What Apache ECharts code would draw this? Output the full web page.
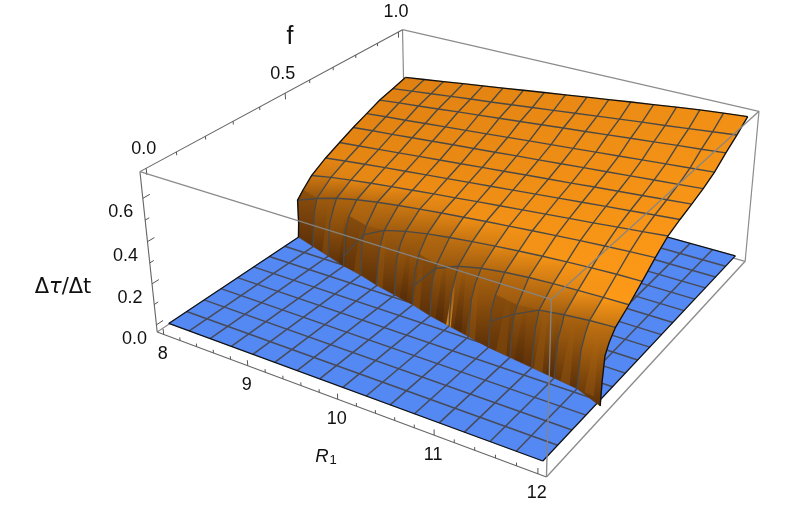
<!DOCTYPE html>
<html><head><meta charset="utf-8">
<style>html,body{margin:0;padding:0;background:#fff}#c{width:797px;height:508px}</style>
<script src="https://cdn.jsdelivr.net/npm/echarts@6/dist/echarts.min.js"></script>
</head><body><div id="c"></div>
<script>
// ---------- data ----------
const rValues = [8,8.25,8.5,8.75,9,9.25,9.5,9.75,10,10.25,10.5,10.75,11,11.25,11.5,11.75,12];
const fValues = [0,.0625,.125,.1875,.25,.3125,.375,.4375,.5,.5625,.625,.6875,.75,.8125,.875,.9375,1];
// f at which the orange sheet leaves the blue plane, for each R
const edgeF = [.495,.475,.455,.435,.42,.40,.385,.37,.35,.335,.32,.305,.295,.285,.275,.265,.255];
const edgeZ = [0,0,0,0,0,0,0,0,0,0,0,0,0,0,0,0,-.03];
// how far past the edge (in f) the brown of the wall reaches
const wallFade = [.09,.1,.11,.12,.13,.14,.14,.15,.15,.15,.14,.14,.13,.12,.11,.1,.08];
const _ = null;
// surface height, one row per f (row index in fValues), one value per R
const zF0312 = [_,_,_,_,_,_,_,_,_,_,_,.12,.19,.245,.26,.27,.276];
const zF0375 = [_,_,_,_,_,_,_,.09,.21,.255,.28,.295,.305,.311,.315,.318,.32];
const zF0437 = [_,_,_,.05,.19,.245,.272,.292,.307,.32,.331,.341,.35,.357,.363,.368,.37];
const zF0500 = [.19,.23,.262,.285,.303,.318,.331,.343,.354,.365,.375,.385,.394,.403,.411,.418,.424];
const zF0562 = [.27,.29,.306,.32,.333,.345,.357,.368,.38,.391,.402,.413,.424,.435,.447,.458,.47];
const zF0625 = [.315,.328,.34,.352,.363,.374,.385,.396,.407,.418,.429,.44,.451,.462,.473,.484,.495];
const zF0687 = [.35,.36,.371,.381,.392,.402,.412,.423,.433,.444,.454,.464,.475,.485,.495,.506,.516];
const zF0750 = [.385,.395,.404,.414,.424,.434,.443,.453,.463,.472,.482,.492,.501,.511,.521,.53,.54];
const zF0812 = [.415,.425,.434,.444,.454,.463,.473,.483,.493,.502,.512,.522,.531,.541,.551,.56,.57];
const zF0875 = [.445,.456,.466,.477,.488,.498,.509,.519,.53,.541,.551,.562,.573,.583,.594,.604,.615];
const zF0937 = [.465,.477,.489,.501,.513,.524,.536,.548,.56,.572,.584,.596,.608,.619,.631,.643,.655];
const zF1000 = [.485,.499,.513,.527,.541,.555,.569,.583,.597,.611,.625,.639,.652,.666,.679,.69,.70];
const blank = rValues.map(()=>_);
const surface = [blank,blank,blank,blank,blank,zF0312,zF0375,zF0437,zF0500,zF0562,zF0625,zF0687,zF0750,zF0812,zF0875,zF0937,zF1000];
// heights on the steep wall, just past the edge
const riseDf = [.004,.012,.03];
const riseA = [.07,.07,.07,.07,.07,.07,.07,.06,.07,.07,.07,.07,.07,.07,.07,.07,.08];
const riseB = [.17,.17,.16,.17,.17,.16,.17,.16,.17,.16,.17,.17,.16,.17,.17,.17,.19];
const riseC = [.225,.225,.22,.23,.225,.22,.23,.225,.225,.22,.23,.225,.22,.23,.225,.23,.235];
// wall streaks: R, half-width in R, top height, strength (+ light, - dark)
const streakR = [10.24,10.12,10.36,10.52,9.62,9.8,8.45,8.72,8.95,9.28,10.9,11.1,11.32,11.46,11.62,11.88];
const streakW = [.03,.05,.05,.06,.05,.05,.05,.05,.05,.05,.06,.05,.05,.05,.05,.05];
const streakZ = [.2,.27,.27,.25,.25,.25,.25,.25,.25,.25,.25,.25,.25,.25,.25,.25];
const streakS = [.8,-.35,-.35,.14,-.28,.14,.16,-.25,.14,.14,.14,-.25,.16,-.25,.16,.14];

const rTicks = [8,8.2,8.4,8.6,8.8,9,9.2,9.4,9.6,9.8,10,10.2,10.4,10.6,10.8,11,11.2,11.4,11.6,11.8,12];
const rLabels = [8,9,10,11,12];
const fTicks = [0,.1,.2,.3,.4,.5,.6,.7,.8,.9,1];
const fLabels = [0,.5,1];
const zTicks = [0,.1,.2,.3,.4,.5,.6];
const zLabels = [0,.2,.4,.6];

// ---------- view set-up ----------
const rRange = [7.92,12.08], fRange = [-.02,1.02], zRange = [-.035,.72];
const boxCorners = [ // u,v,w -> picture
 [0,0,0,157,332],[1,0,0,546,477],[1,1,0,745,262],[0,1,0,406,166],
 [0,0,1,140,172],[1,0,1,552,299],[1,1,1,759,111],[0,1,1,402,30]];
function solveCamera(){
  const A=[],b=[];
  boxCorners.forEach(([u,v,w,x,y])=>{
    A.push([u,v,w,1,0,0,0,0,-x*u,-x*v,-x*w]);b.push(x);
    A.push([0,0,0,0,u,v,w,1,-y*u,-y*v,-y*w]);b.push(y);
  });
  const n=11,M=[];
  for(let r=0;r<n;r++){M.push([]);for(let c=0;c<n;c++){let s=0;A.forEach(a=>s+=a[r]*a[c]);M[r].push(s);}
    let s=0;A.forEach((a,k)=>s+=a[r]*b[k]);M[r].push(s);}
  for(let c=0;c<n;c++){let p=c;for(let r=c+1;r<n;r++)if(Math.abs(M[r][c])>Math.abs(M[p][c]))p=r;
    [M[c],M[p]]=[M[p],M[c]];
    for(let r=0;r<n;r++)if(r!==c){const k=M[r][c]/M[c][c];for(let q=c;q<=n;q++)M[r][q]-=k*M[c][q];}}
  return M.map((row,i)=>row[n]/row[i]);
}
const cam = solveCamera();
function pBox(u,v,w){const d=cam[8]*u+cam[9]*v+cam[10]*w+1;
  return [(cam[0]*u+cam[1]*v+cam[2]*w+cam[3])/d,(cam[4]*u+cam[5]*v+cam[6]*w+cam[7])/d];}
const U=r=>(r-rRange[0])/(rRange[1]-rRange[0]), V=f=>(f-fRange[0])/(fRange[1]-fRange[0]), W=z=>(z-zRange[0])/(zRange[1]-zRange[0]);
const P=(r,f,z)=>pBox(U(r),V(f),W(z));

// ---------- surface structure ----------
const N=rValues.length-1;
function column(i){ // ascending f: edge point, wall points, then rows that have a value
  let pts=[];
  for(let j=0;j<=N;j++) if(surface[j][i]!==null) pts.push({f:fValues[j],z:surface[j][i],j});
  [riseA,riseB,riseC].forEach((arr,k)=>pts.push({f:edgeF[i]+riseDf[k],z:arr[i],j:-1}));
  pts.sort((a,b)=>a.f-b.f);
  const out=[{f:edgeF[i],z:edgeZ[i],j:-1}];
  pts.forEach(p=>{
    const later=pts.some(q=>q.f>p.f&&q.z<p.z);
    if(p.j>=0||!later) out.push(p);
  });
  return out.filter((p,k)=>k===0||p.j>=0||p.z>out[k-1].z);
}
const cols=rValues.map((_,i)=>column(i));
const mix=(a,b,t)=>a.map((v,k)=>v+(b[k]-v)*t);
const rgb=c=>`rgb(${c.map(v=>Math.round(v)).join(',')})`;
const clamp=(x)=>Math.max(0,Math.min(1,x));
function tone(i,k){
  const pt=cols[i][k];
  const base=mix([222,128,18],[255,155,24],clamp(.62*i/N+.5*(1-pt.f)));
  const t=clamp(1-(pt.f-edgeF[i])/wallFade[i]);
  return mix(base,[128,72,12],Math.pow(t,.85));
}
const WALL_FOOT=[92,48,8];
const orangeCells=[];
const firstRow=c=>c.find(p=>p.j>=0).j;
for(let i=0;i<N;i++){
  const a=cols[i],b=cols[i+1];
  const low=Math.max(firstRow(a),firstRow(b));
  for(let j=N;j>low;j--){
    const ak=a.findIndex(p=>p.j===j),bk=b.findIndex(p=>p.j===j);
    const am=a.findIndex(p=>p.j===j-1),bm=b.findIndex(p=>p.j===j-1);
    orangeCells.push({poly:[P(rValues[i],a[ak].f,a[ak].z),P(rValues[i+1],b[bk].f,b[bk].z),
        ...b.slice(bm,bk).reverse().map(p=>P(rValues[i+1],p.f,p.z)),
        ...a.slice(am,ak).map(p=>P(rValues[i],p.f,p.z))],
      stops:[[0,mix(tone(i,ak),tone(i+1,bk),.5)],[1,mix(tone(i,am),tone(i+1,bm),.5)]]});
  }
  const aLow=a.filter(p=>p.j<=low),bLow=b.filter(p=>p.j<=low);
  orangeCells.push({poly:[...aLow.map(p=>P(rValues[i],p.f,p.z)),...bLow.slice().reverse().map(p=>P(rValues[i+1],p.f,p.z))],
    stops:[[0,mix(tone(i,a.findIndex(p=>p.j===low)),tone(i+1,b.findIndex(p=>p.j===low)),.5)],[1,WALL_FOOT]]});
}
function edgeAt(r){const k=Math.min(N-1,Math.floor((r-8)/.25)),t=(r-rValues[k])/.25;return edgeF[k]+(edgeF[k+1]-edgeF[k])*t;}
const streaks=streakR.map((r,k)=>{const w=streakW[k],zt=streakZ[k],s=streakS[k],d=riseDf[2];
  return {poly:[P(r-w,edgeAt(r-w),0),P(r+w,edgeAt(r+w),0),P(r+w/3,edgeAt(r)+d,zt),P(r-w/3,edgeAt(r)+d,zt)],s};});
const blueCells=[];
for(let i=0;i<N;i++)for(let j=0;j<N;j++)blueCells.push([P(rValues[i],fValues[j],0),P(rValues[i+1],fValues[j],0),P(rValues[i+1],fValues[j+1],0),P(rValues[i],fValues[j+1],0)]);

const blueLines=[],blackLines=[],orangeLines=[],orangeEdges=[];
for(let k=0;k<=N;k++){
  const a=[P(rValues[k],0,0),P(rValues[k],1,0)],b=[P(8,fValues[k],0),P(12,fValues[k],0)];
  if(k===0||k===N){blackLines.push(a,b);}else{blueLines.push(a,b);}
}
rValues.forEach((r,i)=>{
  const line=cols[i].map(p=>P(r,p.f,p.z));
  if(i===0||i===N)orangeEdges.push(line);else orangeLines.push(line);
});
for(let j=5;j<=N;j++){
  const line=[];rValues.forEach((r,i)=>{if(surface[j][i]!==null)line.push(P(r,fValues[j],surface[j][i]));});
  if(j===N)orangeEdges.push(line);else orangeLines.push(line);
}
const B=(u,v,w)=>pBox(u,v,w);
const backEdges=[[B(0,1,1),B(1,1,1)],[B(0,1,1),B(0,1,0)],[B(1,1,1),B(1,1,0)],[B(1,1,0),B(0,1,0)],[B(0,0,0),B(0,1,0)]];
const axisEdges=[[B(0,0,1),B(0,1,1)],[B(0,0,0),B(0,0,1)],[B(0,0,0),B(1,0,0)]];
const frontEdges=[[B(0,0,1),B(1,0,1)],[B(1,0,1),B(1,1,1)],[B(1,0,1),B(1,0,0)],[B(1,0,0),B(1,1,0)]];
const ticks=[];
rTicks.forEach(t=>{const maj=rLabels.includes(t),u=U(t);ticks.push([B(u,0,0),B(u,0,maj?.035:.02)]);});
fTicks.forEach(t=>{const maj=fLabels.includes(t),v=V(t);ticks.push([B(0,v,1),B(0,v,maj?.96:.98)]);});
zTicks.forEach(t=>{const maj=zLabels.includes(t),w=W(t);ticks.push([B(0,0,w),B(0,maj?.022:.013,w)]);});
const texts=[];
rLabels.forEach(t=>{const p=B(U(t),0,0);texts.push({x:p[0]-1,y:p[1]+19.5,text:String(t)});});
fLabels.forEach(t=>{const p=B(0,V(t),1);texts.push({x:p[0]-2.5,y:p[1]-19.5,text:t.toFixed(1)});});
zLabels.forEach(t=>{const p=B(0,0,W(t));texts.push({x:p[0]-22,y:p[1]+14,text:t.toFixed(1)});});
texts.push({x:290,y:37,text:'f',size:25});
texts.push({x:326,y:457,text:'{i|R}{s|1}',rich:true});
texts.push({x:63,y:288,text:'{d|Δ}{t|τ}{d|/Δt}',rich:true});

// ---------- series helpers ----------
const lineSeries=(list,color,width,opacity)=>({type:'custom',coordinateSystem:'cartesian2d',silent:true,
  data:list.map((_,i)=>[i,0]),clip:false,
  renderItem:(p,api)=>({type:'polyline',shape:{points:list[api.value(0)].map(q=>api.coord(q))},
    style:{stroke:color,lineWidth:width,fill:null,opacity:opacity===undefined?1:opacity}})});
const series=[
 lineSeries(backEdges,'#8c8c8c',1.2),
 lineSeries(axisEdges,'#666',1.1),
 lineSeries(ticks,'#555',1),
 {type:'custom',silent:true,clip:false,data:blueCells.map((_,i)=>[i,0]),
  renderItem:(p,api)=>({type:'polygon',shape:{points:blueCells[api.value(0)].map(q=>api.coord(q))},style:{fill:'#5488f2',stroke:'#5488f2',lineWidth:.6}})},
 lineSeries(blueLines,'#474a58',1.5),
 lineSeries(blackLines,'#111',1.25),
 {type:'custom',silent:true,clip:false,data:orangeCells.map((_,i)=>[i,0]),
  renderItem:(p,api)=>{const c=orangeCells[api.value(0)];
   const grad=new echarts.graphic.LinearGradient(0,0,0,1,c.stops.map(s=>({offset:s[0],color:rgb(s[1])})));
   return {type:'polygon',shape:{points:c.poly.map(q=>api.coord(q))},style:{fill:grad,stroke:grad,lineWidth:.6}};}},
 {type:'custom',silent:true,clip:false,data:streaks.map((_,i)=>[i,0]),
  renderItem:(p,api)=>{const c=streaks[api.value(0)];
   const col=c.s>0?'255,160,30':'60,28,4',a=Math.abs(c.s);
   const grad=new echarts.graphic.LinearGradient(0,1,0,0,[{offset:0,color:`rgba(${col},${a})`},{offset:1,color:`rgba(${col},0)`}]);
   return {type:'polygon',shape:{points:c.poly.map(q=>api.coord(q))},style:{fill:grad}};}},
 lineSeries(orangeLines,'#4c4944',1.4),
 lineSeries(orangeEdges,'#111',1.35),
 lineSeries(frontEdges,'#858585',1.35,.95),
 {type:'custom',silent:true,clip:false,data:texts.map((_,i)=>[i,0]),
  renderItem:(p,api)=>{const t=texts[api.value(0)],c=api.coord([t.x,t.y]);
   return {type:'text',x:c[0],y:c[1],style:{text:t.text,fill:'#111',font:`${t.size||18}px "Liberation Sans"`,align:'center',verticalAlign:'middle',
     rich:t.rich?{i:{font:'italic 18.5px "Liberation Sans"',fill:'#111'},s:{font:'13px "Liberation Sans"',fill:'#111',verticalAlign:'bottom',padding:[7,0,0,1]},
       t:{font:'italic 21px "DejaVu Sans"',fill:'#111'},d:{font:'21px "DejaVu Sans"',fill:'#111'}}:undefined}};}}
];
const chart=echarts.init(document.getElementById('c'),null,{renderer:'canvas'});
chart.setOption({animation:false,backgroundColor:'#fff',
  grid:{left:0,right:0,top:0,bottom:0},
  xAxis:{type:'value',min:0,max:797,show:false},
  yAxis:{type:'value',min:0,max:508,inverse:true,show:false},
  series});
</script></body></html>
